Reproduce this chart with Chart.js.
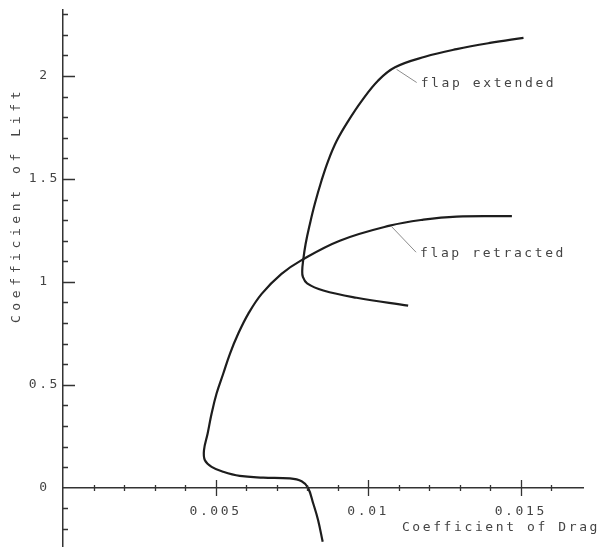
<!DOCTYPE html>
<html>
<head>
<meta charset="utf-8">
<script src="https://cdn.jsdelivr.net/npm/chart.js@4.4.1/dist/chart.umd.min.js"></script>
<style>
  html, body { margin: 0; padding: 0; background: #fff; }
  #wrap { width: 598px; height: 547px; }
</style>
</head>
<body>
<div id="wrap"><canvas id="polarChart" width="598" height="547"></canvas></div>
<script>
// drag / lift coefficient pairs
const retractedCd = [0.00851, 0.00836, 0.00820, 0.00803, 0.00782, 0.00743, 0.00656, 0.00579, 0.00525,
    0.00487, 0.00465, 0.00462, 0.00474, 0.00487, 0.00503, 0.00525, 0.00547, 0.00574, 0.00607,
    0.00651, 0.00716, 0.00778, 0.00907, 0.01071, 0.01181, 0.01290, 0.01471];
const retractedCl = [-0.262, -0.157, -0.076, 0.0, 0.032, 0.046, 0.050, 0.058, 0.078,
    0.102, 0.134, 0.183, 0.264, 0.361, 0.457, 0.554, 0.651, 0.748, 0.845,
    0.942, 1.039, 1.102, 1.200, 1.273, 1.302, 1.317, 1.319];
const extendedCd = [0.01509, 0.01399, 0.01290, 0.01186, 0.01088, 0.01033, 0.00979, 0.00935, 0.00897,
    0.00869, 0.00847, 0.00825, 0.00809, 0.00795, 0.00787, 0.00784, 0.00786, 0.00800, 0.00853,
    0.00962, 0.01131];
const extendedCl = [2.185, 2.160, 2.130, 2.093, 2.042, 1.978, 1.879, 1.782, 1.685,
    1.588, 1.491, 1.378, 1.281, 1.184, 1.104, 1.056, 1.025, 0.993, 0.958,
    0.923, 0.885];

const xTickValues = [0.005, 0.01, 0.015];
const xTickLabels = ['0.005', '0.01', '0.015'];
const yTickValues = [0, 0.5, 1, 1.5, 2];
const yTickLabels = ['0', '0.5', '1', '1.5', '2'];
const curveLabels = ['flap retracted', 'flap extended'];

// callout leader lines (Cd, Cl)
const retractedLeaderCd = [0.01077, 0.01157];
const retractedLeaderCl = [1.268, 1.144];
const extendedLeaderCd = [0.01093, 0.01159];
const extendedLeaderCl = [2.032, 1.968];

const toPoints = (xs, ys) => xs.map((x, i) => ({ x: x, y: ys[i] }));

const typeFace = '"DejaVu Sans Mono", "Liberation Mono", monospace';
const inkText = '#444';

const typewriter = {
    id: 'typewriter',
    beforeLayout(chart) { chart.ctx.letterSpacing = '2.6px'; },
    beforeDraw(chart) { chart.ctx.letterSpacing = '2.6px'; },
    afterDraw(chart) {
        const { ctx, chartArea } = chart;
        const x = chart.scales.x, y = chart.scales.y;
        const x0 = x.getPixelForValue(0);
        const y0 = y.getPixelForValue(0);
        ctx.save();
        ctx.strokeStyle = '#333';
        ctx.lineWidth = 1.3;
        ctx.beginPath();
        // Cl ticks every 0.1, pointing into the plot
        for (let i = -2; i <= 23; i++) {
            if (i === 0) continue;
            const p = Math.round(y.getPixelForValue(i / 10)) + 0.5;
            const len = i % 5 === 0 ? 12 : 5;
            ctx.moveTo(x0, p);
            ctx.lineTo(x0 + len, p);
        }
        // Cd ticks every 0.001, crossing the axis
        for (let i = 1; i <= 16; i++) {
            const p = Math.round(x.getPixelForValue(i / 1000)) + 0.5;
            const len = i % 5 === 0 ? 8 : 3;
            ctx.moveTo(p, y0 - len);
            ctx.lineTo(p, y0 + len);
        }
        ctx.stroke();

        ctx.fillStyle = inkText;
        ctx.font = '13px ' + typeFace;
        ctx.textBaseline = 'middle';
        ctx.letterSpacing = '2.6px';

        ctx.textAlign = 'right';
        ctx.fillText('Coefficient of Drag', chartArea.right + 17, y0 + 40);

        ctx.textAlign = 'left';
        ctx.fillText(curveLabels[1], x.getPixelForValue(extendedLeaderCd[1]) + 4,
            y.getPixelForValue(extendedLeaderCl[1]) + 1);
        ctx.fillText(curveLabels[0], x.getPixelForValue(retractedLeaderCd[1]) + 4,
            y.getPixelForValue(retractedLeaderCl[1]) + 1);

        ctx.translate(17, chartArea.top + 195);
        ctx.rotate(-Math.PI / 2);
        ctx.textAlign = 'center';
        ctx.letterSpacing = '4.6px';
        ctx.fillText('Coefficient of Lift', 0, 0);
        ctx.restore();
    }
};

const curveStyle = {
    showLine: true,
    borderColor: '#1d1d1d',
    borderWidth: 2.2,
    pointRadius: 0,
    tension: 0.4,
    fill: false
};
const leaderStyle = {
    showLine: true,
    borderColor: '#8c8c8c',
    borderWidth: 1,
    pointRadius: 0,
    tension: 0,
    fill: false
};

const ctxPolar = document.getElementById('polarChart').getContext('2d');
const polarChart = new Chart(ctxPolar, {
    type: 'scatter',
    data: {
        datasets: [
            Object.assign({ label: curveLabels[0], data: toPoints(retractedCd, retractedCl) }, curveStyle),
            Object.assign({ label: curveLabels[1], data: toPoints(extendedCd, extendedCl) }, curveStyle),
            Object.assign({ label: 'leader 1', data: toPoints(retractedLeaderCd, retractedLeaderCl) }, leaderStyle),
            Object.assign({ label: 'leader 2', data: toPoints(extendedLeaderCd, extendedLeaderCl) }, leaderStyle)
        ]
    },
    options: {
        responsive: false,
        animation: false,
        devicePixelRatio: 1,
        layout: { padding: { top: 10, right: 15, bottom: 0, left: 0 } },
        plugins: {
            legend: { display: false },
            tooltip: { enabled: false }
        },
        scales: {
            x: {
                type: 'linear',
                min: 0,
                max: 0.01704,
                position: { y: 0 },
                grid: { drawOnChartArea: false, drawTicks: false },
                border: { display: true, color: '#333', width: 1.5 },
                afterBuildTicks: s => { s.ticks = xTickValues.map(v => ({ value: v })); },
                afterFit: s => { s.height = 0; s.paddingLeft = 0; s.paddingRight = 0; },
                ticks: {
                    padding: 16,
                    maxRotation: 0,
                    color: inkText,
                    font: { family: typeFace, size: 13 },
                    callback: (v, i) => xTickLabels[i]
                }
            },
            y: {
                type: 'linear',
                min: -0.287,
                max: 2.32,
                position: 'left',
                grid: { drawOnChartArea: false, drawTicks: false },
                border: { display: true, color: '#333', width: 1.5 },
                afterBuildTicks: s => { s.ticks = yTickValues.map(v => ({ value: v })); },
                afterFit: s => { s.width = 63; s.paddingTop = 0; s.paddingBottom = 0; },
                ticks: {
                    padding: 3,
                    crossAlign: 'center',
                    color: inkText,
                    font: { family: typeFace, size: 13 },
                    callback: (v, i) => yTickLabels[i]
                }
            }
        }
    },
    plugins: [typewriter]
});
</script>
</body>
</html>
